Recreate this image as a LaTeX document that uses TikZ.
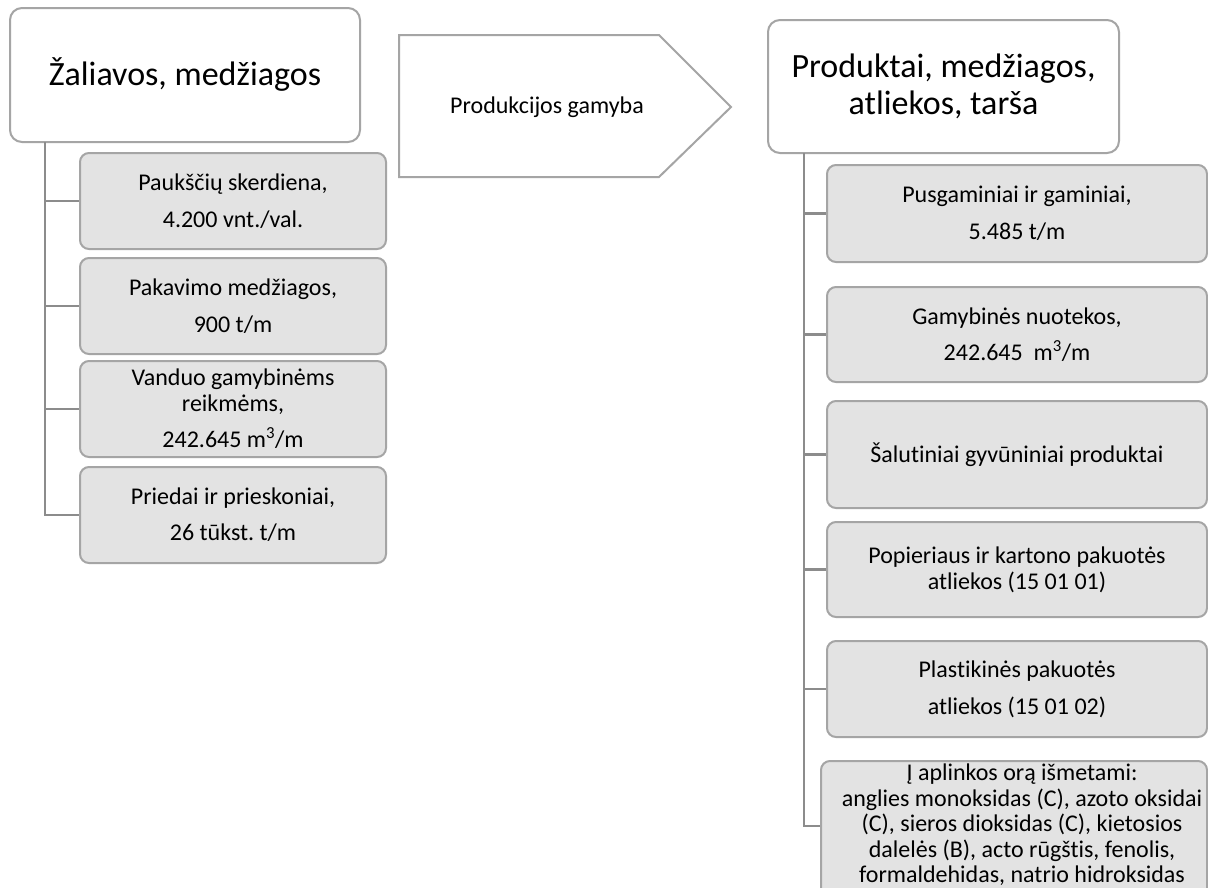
\documentclass[tikz,border=0pt]{standalone}
\usepackage{fontspec}
\setmainfont{Carlito}[Ligatures=NoCommon]
\frenchspacing
\definecolor{boxline}{RGB}{165,165,165}
\definecolor{boxfill}{RGB}{227,227,227}
\definecolor{trunk}{RGB}{140,140,140}
\newcommand{\cubic}{m\textsuperscript{3}}
\tikzset{
  topbox/.style={draw=boxline, line width=2pt, rounded corners=12pt, fill=white, align=center,
    font=\fontsize{34}{37}\selectfont, inner sep=0pt},
  childbox/.style={draw=boxline, line width=2pt, rounded corners=9pt, fill=boxfill, align=center,
    font=\fontsize{24}{26}\selectfont, inner sep=0pt},
  conn/.style={draw=trunk, line width=2.5pt},
  procshape/.style={draw=boxline, line width=2pt, fill=white},
}
\begin{document}
\begin{tikzpicture}[x=1pt,y=-1pt]
\clip (0,0) rectangle (1208,887);
\fill[white] (0,0) rectangle (1208,887);
% left side
\node[topbox, minimum width=350pt, minimum height=134pt] (L) at (185,75) {Žaliavos, medžiagos};
\node[childbox, minimum width=306pt, minimum height=96pt] (l1) at (233,201) {Paukščių skerdiena,\\[11pt]4.200 vnt./val.};
\node[childbox, minimum width=306pt, minimum height=96pt] (l2) at (233,306) {Pakavimo medžiagos,\\[11pt]900 t/m};
\node[childbox, minimum width=306pt, minimum height=96pt] (l3) at (233,409) {Vanduo gamybinėms\\reikmėms,\\[10pt]242.645 \cubic/m};
\node[childbox, minimum width=306pt, minimum height=96pt] (l4) at (233,515) {Priedai ir prieskoniai,\\[10pt]26 tūkst. t/m};
\coordinate (lt) at (45,142);
\draw[conn] (lt) |- (l4.west);
\draw[conn] (lt |- l1.west) -- (l1.west);
\draw[conn] (lt |- l2.west) -- (l2.west);
\draw[conn] (lt |- l3.west) -- (l3.west);
% process arrow
\draw[procshape] (399,35) -- (659,35) -- (731,107) -- (659,177) -- (399,177) -- cycle;
\node[font=\fontsize{24}{26}\selectfont] (P) at (547,107) {Produkcijos gamyba};
% right side
\node[topbox, minimum width=351pt, minimum height=133pt] (R) at (943.5,86.5) {Produktai, medžiagos,\\atliekos, tarša};
\node[childbox, minimum width=380pt, minimum height=97pt] (r1) at (1017,213.5) {Pusgaminiai ir gaminiai,\\[11pt]5.485 t/m};
\node[childbox, minimum width=380pt, minimum height=95pt] (r2) at (1017,334.5) {Gamybinės nuotekos,\\[10pt]242.645\ \ \cubic/m};
\node[childbox, minimum width=380pt, minimum height=107pt] (r3) at (1017,454.5) {Šalutiniai gyvūniniai produktai};
\node[childbox, minimum width=380pt, minimum height=95pt] (r4) at (1017,569.5) {Popieriaus ir kartono pakuotės\\atliekos (15 01 01)};
\node[childbox, minimum width=380pt, minimum height=96pt] (r5) at (1017,689) {Plastikinės pakuotės\\[11pt]atliekos (15 01 02)};
\node[childbox, minimum width=386pt, minimum height=150pt, anchor=north] (r6) at (1014,760) {};
\node[font=\fontsize{24}{25.5}\selectfont, align=center, anchor=north, inner sep=0pt] (r6t) at (1022,764) {Į aplinkos orą išmetami:\\anglies monoksidas (C), azoto oksidai\\(C), sieros dioksidas (C), kietosios\\dalelės (B), acto rūgštis, fenolis,\\formaldehidas, natrio hidroksidas};
\coordinate (rt) at (804,153);
\draw[conn] (rt) |- (r6.west |- 0,826);
\draw[conn] (rt |- r1.west) -- (r1.west);
\draw[conn] (rt |- r2.west) -- (r2.west);
\draw[conn] (rt |- r3.west) -- (r3.west);
\draw[conn] (rt |- r4.west) -- (r4.west);
\draw[conn] (rt |- r5.west) -- (r5.west);
\end{tikzpicture}
\end{document}
